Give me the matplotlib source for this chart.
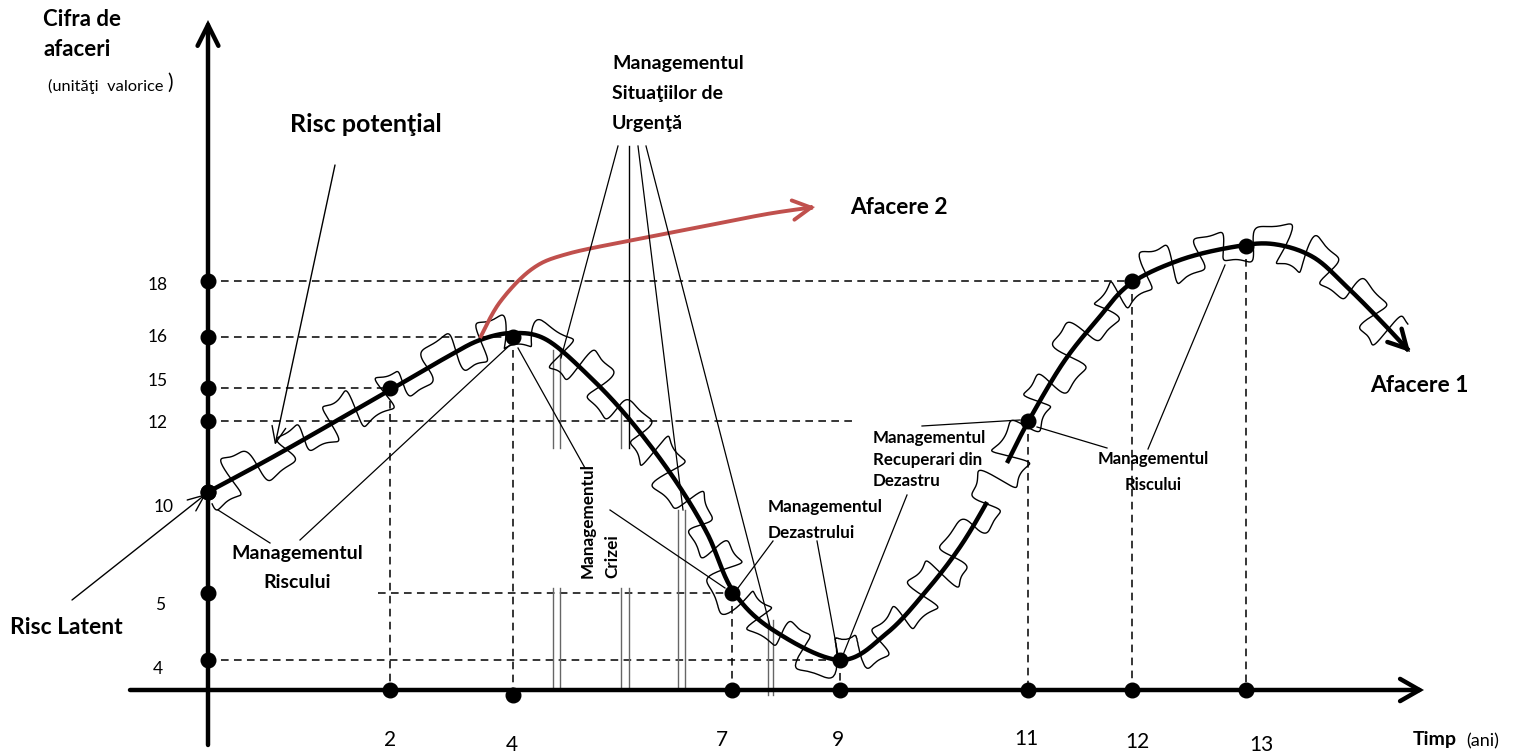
import numpy as np
import matplotlib.pyplot as plt
from matplotlib.patches import FancyArrowPatch

plt.rcParams['font.family'] = ['Lato', 'DejaVu Sans']

# milestones of the business curve: year -> turnover value
years = [2, 4, 7, 9, 11, 12, 13]
values = [18, 16, 15, 12, 10, 5, 4]
milestone_years = [0, 2, 4, 7, 9, 11, 12, 13]
milestone_values = [10, 15, 16, 5, 4, 12, 18, 19]

# layout of the (conceptual, non linear) axes, in canvas pixels
x_of_year = {0: 208, 2: 390, 4: 513, 7: 732, 9: 840, 11: 1028, 12: 1132, 13: 1246}
y_of_value = {18: 281, 16: 337, 15: 388, 12: 421, 10: 492, 5: 593, 4: 660, 19: 246}
X0, Y0 = 208, 690

# shape knots of the two curves (canvas pixels)
curve1 = [(208, 492), (280, 453), (390, 390), (447, 357), (480, 340), (513, 333), (547, 340),
          (590, 377), (630, 420), (673, 477), (707, 533), (733, 591), (773, 630), (840, 660),
          (887, 633), (927, 590), (960, 547), (987, 502), (1007, 463), (1028, 422),
          (1063, 363), (1097, 320), (1130, 284), (1180, 260), (1233, 247), (1273, 244),
          (1313, 257), (1347, 287), (1380, 320), (1410, 352)]
curve2 = [(480, 338), (500, 302), (532, 269), (567, 254), (633, 240), (700, 227), (767, 214), (815, 207)]


def spline(pts, n=40):
    p = np.array(pts, float)
    p = np.vstack([p[0], p, p[-1]])
    out = []
    t = np.linspace(0, 1, n, endpoint=False)[:, None]
    for i in range(1, len(p) - 2):
        p0, p1, p2, p3 = p[i - 1], p[i], p[i + 1], p[i + 2]
        out.append(0.5 * (2 * p1 + (-p0 + p2) * t + (2 * p0 - 5 * p1 + 4 * p2 - p3) * t ** 2
                          + (-p0 + 3 * p1 - 3 * p2 + p3) * t ** 3))
    out.append(p[-2][None])
    return np.vstack(out)


fig = plt.figure(figsize=(15.15, 7.54), dpi=100)
ax = fig.add_axes([0, 0, 1, 1])
ax.set_xlim(0, 1515)
ax.set_ylim(754, 0)
ax.axis('off')


def arrow(p_from, p_to, lw=1.0, hl=1.2, hw=0.5, color='black', ms=10, z=5):
    ax.add_patch(FancyArrowPatch(p_from, p_to, arrowstyle=f'->,head_length={hl},head_width={hw}',
                                 mutation_scale=ms, lw=lw, color=color, shrinkA=0, shrinkB=0,
                                 zorder=z, capstyle='round', joinstyle='miter'))


# axes
arrow((X0, 745), (X0, 20), lw=3.2, hl=1.5, hw=0.75, z=6)
arrow((130, Y0), (1424, Y0), lw=3.2, hl=1.4, hw=0.8, z=6)

# dashed guides
dash = dict(color='black', lw=1.1, ls=(0, (5, 3.5)), zorder=2)
h_ends = {18: (X0, 1132), 16: (X0, 513), 15: (X0, 390), 12: (X0, 855), 5: (378, 732), 4: (X0, 840)}
for v, (xa, xb) in h_ends.items():
    ax.plot([xa, xb], [y_of_value[v]] * 2, **dash)
for yr, v in zip(milestone_years[1:], milestone_values[1:]):
    ax.plot([x_of_year[yr]] * 2, [y_of_value[v], Y0], **dash)

# double vertical time markers
g = dict(color='#666666', lw=1.0, zorder=2)
for x in (553, 560):
    ax.plot([x, x], [350, 448], **g)
    ax.plot([x, x], [588, Y0], **g)
ax.plot([621, 621], [410, 448], **g)
ax.plot([629, 629], [146, 448], color='black', lw=1.0, zorder=2)
for x in (621, 629):
    ax.plot([x, x], [588, Y0], **g)
for x in (678, 685):
    ax.plot([x, x], [510, Y0], **g)
for x in (768, 773):
    ax.plot([x, x], [620, Y0 + 5], **g)

# main curve with hand-drawn style squiggle (lobes on alternate sides)
c = spline(curve1)
seg = np.hypot(*np.diff(c, axis=0).T)
s = np.concatenate([[0], np.cumsum(seg)])
r = 9.0
t = np.arange(0.3, s[-1] / r - 2.0, 0.03)
base = r * t
bx = np.interp(base, s, c[:, 0])
by = np.interp(base, s, c[:, 1])
tx = np.gradient(bx)
ty = np.gradient(by)
nrm = np.hypot(tx, ty)
tx, ty = tx / nrm, ty / nrm
nx, ny = -ty, tx
te = t + 0.35 * np.sin(0.53 * t)
A = 20 + 4 * np.sin(0.43 * t) + 2.5 * np.sin(1.7 * t + 1)
Bt = 7 + 1.5 * np.sin(0.61 * t + 2)
along = -Bt * np.sin(2 * te) + 2.5 * np.sin(0.9 * t)
across = A * (np.sin(te) + 0.22 * np.sin(3 * te))
sx = bx + along * tx + across * nx
sy = by + along * ty + across * ny
ax.plot(sx, sy, color='black', lw=1.0, zorder=3)

c1 = c[c[:, 0] <= 987]
c2 = c[c[:, 0] >= 1007]
ax.plot(c1[:, 0], c1[:, 1], color='black', lw=3.2, zorder=4, solid_capstyle='butt')
ax.plot(c2[:-3, 0], c2[:-3, 1], color='black', lw=3.2, zorder=4, solid_capstyle='butt')
arrow(tuple(c2[-6]), tuple(c2[-1]), lw=3.2, hl=1.3, hw=0.7, z=4)

# Afacere 2
r2 = spline(curve2)
ax.plot(r2[:-3, 0], r2[:-3, 1], color='#C0504D', lw=2.8, zorder=4, solid_capstyle='butt')
arrow(tuple(r2[-6]), tuple(r2[-1]), lw=2.8, hl=1.3, hw=0.7, color='#C0504D', z=4)

# dots
dot = dict(marker='o', ms=10.5, color='black', ls='none', zorder=7)
ax.plot([X0] * len(values), [y_of_value[v] for v in values], **dot)
ax.plot([x_of_year[y] for y in years], [Y0 if y != 4 else Y0 + 5 for y in years], **dot)
ax.plot([x_of_year[y] for y in milestone_years], [y_of_value[v] for v in milestone_values], **dot)

# tick labels
ylab_pos = {18: (158, 285), 16: (158, 337), 15: (158, 381), 12: (158, 423), 10: (164, 507),
            5: (160, 605), 4: (158, 669)}
for v, (x, y) in ylab_pos.items():
    ax.text(x, y, str(v), fontsize=12.5, ha='center', va='center')
xlab_pos = {2: (390, 740), 4: (512, 745), 7: (722, 740), 9: (838, 740), 11: (1026, 739),
            12: (1137, 742), 13: (1261, 745)}
for yr, (x, y) in xlab_pos.items():
    ax.text(x, y, str(yr), fontsize=15, ha='center', va='center')

B = dict(fontweight='bold', va='center')
ax.text(43, 20, 'Cifra de', fontsize=16, **B)
ax.text(43, 50, 'afaceri', fontsize=16, **B)
ax.text(48, 86, '(unităţi  valorice', fontsize=11.8, va='center')
ax.text(167, 83, ')', fontsize=15, va='center')
ax.text(1413, 740, 'Timp', fontsize=14, **B)
ax.text(1466, 741, '(ani)', fontsize=13, va='center')

ax.text(290, 125, 'Risc potenţial', fontsize=18, **B)
ax.text(10, 627, 'Risc Latent', fontsize=16.5, **B)
ax.text(850, 207, 'Afacere 2', fontsize=16.3, **B)
ax.text(1370, 385, 'Afacere 1', fontsize=16.5, **B)

ax.text(612, 63, 'Managementul', fontsize=14, **B)
ax.text(612, 93, 'Situaţiilor de', fontsize=14, **B)
ax.text(612, 123, 'Urgenţă', fontsize=14, **B)

ax.text(297, 554, 'Managementul', fontsize=14, ha='center', **B)
ax.text(297, 582, 'Riscului', fontsize=14, ha='center', **B)
ax.text(1153, 459, 'Managementul', fontsize=12, ha='center', **B)
ax.text(1153, 485, 'Riscului', fontsize=12, ha='center', **B)
ax.text(768, 507, 'Managementul', fontsize=12.3, **B)
ax.text(768, 533, 'Dezastrului', fontsize=12.3, **B)
ax.text(873, 438, 'Managementul', fontsize=12.2, **B)
ax.text(873, 460, 'Recuperari din', fontsize=12.2, **B)
ax.text(873, 481, 'Dezastru', fontsize=12.2, **B)
ax.text(588, 578, 'Managementul', fontsize=12.3, rotation=90, rotation_mode='anchor',
        ha='left', fontweight='bold', va='center')
ax.text(612, 578, 'Crizei', fontsize=12.3, rotation=90, rotation_mode='anchor',
        ha='left', fontweight='bold', va='center')

# leader lines
leaders = [((270, 543), (218, 510)), ((300, 540), (510, 345)),
           ((618, 146), (561, 358)), ((638, 146), (683, 510)), ((646, 146), (770, 626)),
           ((518, 348), (585, 468)), ((610, 510), (725, 588)),
           ((773, 541), (738, 588)), ((817, 541), (838, 655)),
           ((907, 495), (843, 655)), ((922, 426), (1020, 420)),
           ((1107, 448), (1037, 427)), ((1148, 449), (1225, 265))]
for (xa, ya), (xb, yb) in leaders:
    ax.plot([xa, xb], [ya, yb], color='black', lw=0.9, zorder=5)
arrow((335, 165), (275, 445), lw=1.0, hl=1.2, hw=0.5)
arrow((72, 600), (206, 494), lw=1.0, hl=1.2, hw=0.5)

fig.savefig('out.png', dpi=100)
